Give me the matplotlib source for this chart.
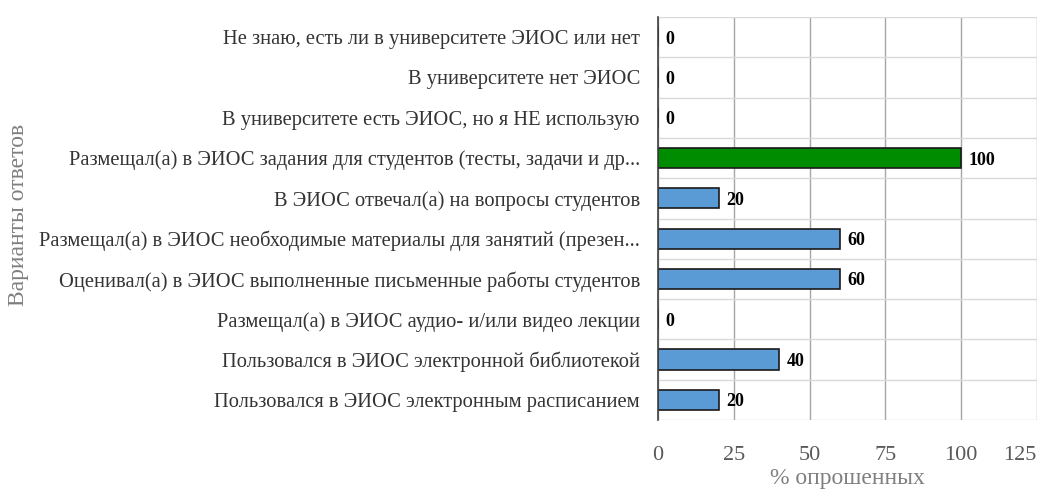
import matplotlib.pyplot as plt

# answers, listed from bottom to top
answers = [
    "Пользовался в ЭИОС электронным расписанием",
    "Пользовался в ЭИОС электронной библиотекой",
    "Размещал(а) в ЭИОС аудио- и/или видео лекции",
    "Оценивал(а) в ЭИОС выполненные письменные работы студентов",
    "Размещал(а) в ЭИОС необходимые материалы для занятий (презен...",
    "В ЭИОС отвечал(а) на вопросы студентов",
    "Размещал(а) в ЭИОС задания для студентов (тесты, задачи и др...",
    "В университете есть ЭИОС, но я НЕ использую",
    "В университете нет ЭИОС",
    "Не знаю, есть ли в университете ЭИОС или нет",
]
percent = [20, 40, 0, 60, 60, 20, 100, 0, 0, 0]
x_ticks = [0, 25, 50, 75, 100, 125]

blue = "#5b9bd5"
green = "#008c00"
colors = [green if v == max(percent) else blue for v in percent]

plt.rcParams['font.family'] = ['Liberation Serif', 'DejaVu Serif']

fig = plt.figure(figsize=(10.39, 4.92), dpi=100)
ax = fig.add_axes([0.6333, 0.1463, 0.9980 - 0.6333, 0.9654 - 0.1463])

pos = list(range(len(answers)))
ax.barh(pos, percent, height=0.5, color=colors, edgecolor="#1a1a1a",
        linewidth=1.2, zorder=3)

for p, v in zip(pos, percent):
    ax.text(v + 2.5, p - 0.05, str(v), va="center", ha="left", fontsize=13,
            fontweight="bold", color="black", zorder=4)

ax.set_xlim(0, 125)
ax.set_ylim(-0.5, len(answers) - 0.5)
ax.set_xticks(x_ticks)
ax.set_yticks(pos)
ax.set_yticklabels(answers, fontsize=14.8, color="#333333")
ax.tick_params(axis="x", length=0, pad=19, labelsize=16, labelcolor="#595959")
ax.tick_params(axis="y", length=0, pad=13)
# keep the last tick label inside the figure
ax.get_xticklabels()[-1].set_horizontalalignment("right")

# vertical grid at ticks, light horizontal lines between rows
ax.grid(axis="x", color="#a6a6a6", linewidth=1.0, zorder=0)
ax.set_yticks([p - 0.5 for p in pos] + [len(answers) - 0.5], minor=True)
ax.grid(axis="y", which="minor", color="#d9d9d9", linewidth=1.0, zorder=0)
ax.tick_params(axis="y", which="minor", length=0)

for s in ["top", "right", "bottom"]:
    ax.spines[s].set_visible(False)
ax.spines["left"].set_color("#404040")
ax.spines["left"].set_linewidth(1.2)
ax.spines["left"].set_zorder(5)

ax.set_xlabel("% опрошенных", fontsize=17, color="#7f7f7f", labelpad=2)
fig.text(0.018, 0.563, "Варианты ответов", rotation=90, fontsize=17,
         color="#7f7f7f", ha="center", va="center")

plt.savefig("out.png", dpi=100)
